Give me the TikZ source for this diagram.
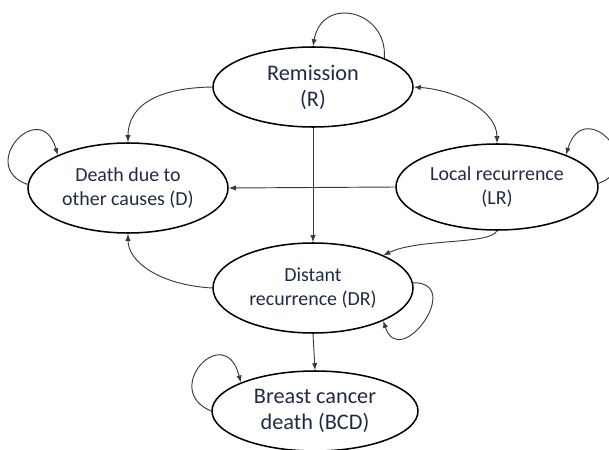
\documentclass[tikz,border=0pt]{standalone}
\usepackage{fontspec}
\setmainfont{Carlito}
\usetikzlibrary{shapes.geometric, arrows.meta}
\definecolor{txtnavy}{HTML}{1F2A44}
\definecolor{edgegray}{HTML}{3A3A3A}

\begin{document}
\begin{tikzpicture}[
        x=0.03cm, y=-0.03cm, % координаты в пикселях, ось y вниз
        >={Latex[length=6pt,width=4.5pt]}, % Наконечники стрелок
        stage/.style={ellipse, draw, line width=1.3pt, minimum width=6cm, minimum height=2.6cm,
            inner sep=0pt, align=center, text=txtnavy, font=\fontsize{17}{20}\selectfont}, % Стиль состояний
        big/.style={font=\fontsize{19}{22}\selectfont}, % Крупный текст
        link/.style={draw=edgegray, line width=0.8pt, ->}, % Стиль переходов
    ]
    \useasboundingbox (0,0) rectangle (609,450);

    % Состояния
    \node[stage, big, minimum height=2.4cm] (R) at (313,87) {Remission\\(R)};
    \node[stage, minimum height=2.7cm] (D) at (128,188) {Death due to\\other causes (D)};
    \node[stage, minimum width=6.06cm, minimum height=2.58cm] (LR) at (497,187) {Local recurrence\\(LR)};
    \node[stage, minimum height=2.7cm] (DR) at (313,288) {Distant\\recurrence (DR)};
    \node[stage, big, minimum width=6.18cm, minimum height=2.4cm] (BCD) at (315,411) {Breast cancer\\death (BCD)};

    % Переходы
    \draw[link] (R.22) .. controls (388,10) and (322,-5) .. (R.north);
    \draw[link] (R.west) .. controls (150,88) and (128,110) .. (D.north);
    \draw[link, <->] (R.east) .. controls (455,90) and (497,110) .. (LR.north);
    \draw[link] (R.south) -- (DR.north);
    \draw[link] (LR.west) -- (D.east);
    \draw[link] (LR.2) .. controls (649,165) and (584,95) .. (LR.25);
    \draw[link] (LR.south) .. controls (490,245) and (420,238) .. (DR.25);
    \draw[link] (DR.west) .. controls (160,285) and (128,262) .. (D.south);
    \draw[link] (DR.3) .. controls (465,282) and (400,372) .. (DR.-25);
    \draw[link] (DR.south) -- (BCD.north);
    \draw[link] (BCD.180) .. controls (160,390) and (225,320) .. (BCD.159);
    \draw[link] (D.178) .. controls (-24,166) and (41,96) .. (D.155);
\end{tikzpicture}
\end{document}
